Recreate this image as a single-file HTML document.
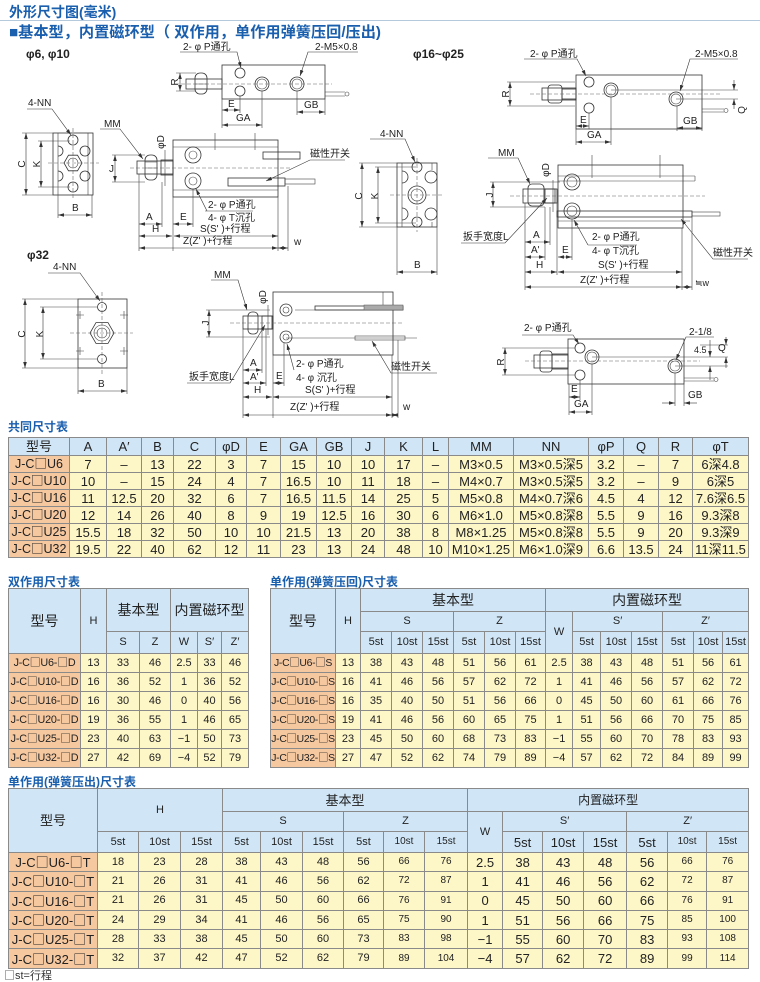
<!DOCTYPE html>
<html><head><meta charset="utf-8">
<style>
html,body{margin:0;padding:0;background:#fff}
#pg{position:relative;width:760px;height:982px;overflow:hidden;background:#fff;font-family:"Liberation Sans","Noto Sans CJK SC",sans-serif}
svg{position:absolute;left:0;top:0}
i{font-style:normal;font-family:"Noto Sans CJK SC",sans-serif}
table{position:absolute;border-collapse:collapse;table-layout:fixed;color:#222;border:1.5px solid #5a5a5a;font-family:"Liberation Sans","Noto Sans CJK SC",sans-serif}
td{border:1px solid #8a8a8a;text-align:center;vertical-align:middle;padding:0;overflow:hidden;white-space:nowrap;background:#fdf6c6;line-height:1}
td.h{background:#d0e6f7}
td.m{background:#f5c8a0}
.tt{position:absolute;font-weight:bold;color:#1a5fae;font-size:12px;white-space:nowrap;font-family:"Liberation Sans","Noto Sans CJK SC",sans-serif}
#t1 td{font-size:13px}
#t1 td.m{font-size:12.5px}
#t2 td{font-size:11px}
#t2 td.m{font-size:10.8px;letter-spacing:-0.2px}
#t3 td{font-size:11px}
#t3 td.m{font-size:10.4px;letter-spacing:-0.3px}
#t4 td{font-size:11px}
#t4 td.m{font-size:13px}
#t4 td.b{font-size:13px}
#t4 td.s{font-size:10px}
</style></head>
<body><div id="pg">
<svg width="760" height="420" viewBox="0 0 760 420">
<defs>
<marker id="a" viewBox="0 0 10 6" refX="10" refY="3" markerWidth="6" markerHeight="3.6" orient="auto-start-reverse" markerUnits="userSpaceOnUse"><path d="M0,0 L10,3 L0,6z" fill="#333"/></marker>
</defs>
<style>
.l{stroke:#333;stroke-width:.8;fill:none}
.t{stroke:#444;stroke-width:.6;fill:none}
.c{stroke:#666;stroke-width:.6;stroke-dasharray:4 2;fill:none}
.d{stroke:#333;stroke-width:.6;fill:none;marker-start:url(#a);marker-end:url(#a)}
.e{stroke:#333;stroke-width:.6;fill:none;marker-end:url(#a)}
text{font-family:"Liberation Sans","Noto Sans CJK SC",sans-serif;font-size:10px;fill:#222}
</style>
<!-- header -->
<text x="9" y="17" style="font-size:14px;font-weight:bold;fill:#1a5fae">外形尺寸图(毫米)</text>
<line x1="0" y1="20.5" x2="760" y2="20.5" stroke="#b5c9dd" stroke-width="1"/>
<text x="9" y="37" textLength="372" lengthAdjust="spacingAndGlyphs" style="font-size:15px;font-weight:bold;fill:#1a5fae">■基本型，内置磁环型（ 双作用，单作用弹簧压回/压出)</text>
<text x="26" y="58" style="font-size:12px;font-weight:bold">φ6, φ10</text>

<!-- phi6 top view -->
<text x="183" y="50">2- φ P通孔</text>
<path class="e" d="M180 52H237L241 68"/>
<text x="315" y="50">2-M5×0.8</text>
<path class="e" d="M358 52H308L300 76"/>
<rect class="l" x="222" y="65" width="103" height="34"/>
<rect class="l" x="186" y="79" width="36" height="10"/>
<rect class="l" x="195" y="73" width="12" height="21" rx="5"/>
<path class="t" d="M195 79H207M195 84H207M195 89H207"/>
<circle class="l" cx="240" cy="73" r="5"/><circle class="l" cx="240" cy="91" r="5"/>
<circle class="l" cx="262" cy="84" r="7"/><circle class="t" cx="262" cy="84" r="5"/>
<circle class="l" cx="297" cy="84" r="7"/><circle class="t" cx="297" cy="84" r="5"/>
<path class="c" d="M175 84H332"/>
<path class="t" d="M325 92H345M325 96H345"/><circle class="t" cx="347" cy="94" r="2"/>
<path class="t" d="M176 73H196M176 91H196"/><path class="d" d="M180 73V91"/>
<text transform="translate(178,82) rotate(-90)" text-anchor="middle">R</text>
<path class="t" d="M222 99V128M240 96V113M262 91V128M297 91V115M325 99V115"/>
<path class="d" d="M222 110H240"/><text x="228" y="107">E</text>
<path class="d" d="M222 125H262"/><text x="236" y="121">GA</text>
<path class="d" d="M297 112H325"/><text x="304" y="108">GB</text>

<!-- phi6 end view -->
<text x="28" y="106">4-NN</text>
<path class="e" d="M27 109H52L71 135"/>
<rect class="l" x="53" y="133" width="40" height="62"/>
<path class="t" d="M58 133V195M88 133V195"/>
<circle class="l" cx="73" cy="140" r="5"/><circle class="l" cx="85" cy="151" r="5"/>
<circle class="l" cx="85" cy="176" r="5"/><circle class="l" cx="73" cy="187" r="5"/>
<polygon class="l" points="82,163 77.5,170.8 68.5,170.8 64,163 68.5,155.2 77.5,155.2"/><circle class="t" cx="73" cy="163" r="5"/>
<path class="l" d="M58 146A5 5 0 0 1 58 156M58 171A5 5 0 0 1 58 181"/>
<path class="c" d="M48 163H99M73 128V200"/>
<path class="t" d="M22 133H53M22 195H53M38 141H70M38 187H70"/>
<path class="d" d="M26 133V195"/><text transform="translate(25,164) rotate(-90)" text-anchor="middle">C</text>
<path class="d" d="M41 141V187"/><text transform="translate(40,164) rotate(-90)" text-anchor="middle">K</text>
<path class="t" d="M58 195V218M92 195V218"/>
<path class="d" d="M58 215H92"/><text x="72" y="211">B</text>

<!-- phi6 side view -->
<text x="104" y="127">MM</text>
<path class="e" d="M100 129H120L143 159"/>
<text transform="translate(164,142) rotate(-90)" text-anchor="middle">φD</text>
<path class="t" d="M165 150V186"/>
<rect class="l" x="173" y="140" width="105" height="57"/>
<path class="t" d="M173 147H278M173 190H278M215 133V150M255 133V150"/>
<circle class="l" cx="193" cy="155" r="8"/><circle class="t" cx="193" cy="155" r="4"/>
<circle class="l" cx="193" cy="181" r="8"/><circle class="t" cx="193" cy="181" r="4"/>
<rect class="l" x="137" y="161" width="36" height="13"/>
<rect class="l" x="145" y="155" width="12" height="25" rx="5"/>
<path class="t" d="M145 162H157M145 168H157M145 174H157"/>
<rect class="l" x="161" y="160" width="12" height="15"/>
<path class="c" d="M130 168H292"/>
<path class="t" d="M112 155H145M112 182H145"/>
<path class="d" d="M115 155V182"/><text x="109" y="172">J</text>
<rect class="l" x="263" y="152" width="37" height="7"/>
<rect class="l" x="228" y="178" width="57" height="8"/>
<rect class="t" x="285" y="179" width="30" height="5"/>
<text x="310" y="157">磁性开关</text>
<path class="e" d="M345 160H310L266 181"/>
<text x="208" y="208">2- φ P通孔</text>
<path class="t" d="M205 211H253"/>
<text x="208" y="221">4- φ T沉孔</text>
<path class="e" d="M207 211L196 189"/>
<path class="t" d="M139 174V251M162 182V227M173 197V251M193 189V227M278 197V251M288 186V251"/>
<path class="d" d="M139 224H162"/><text x="146" y="220">A</text>
<path class="d" d="M173 224H193"/><text x="180" y="220">E</text>
<path class="d" d="M139 236H172"/><text x="152" y="232">H</text>
<path class="d" d="M174 236H278"/><text x="200" y="232">S(S' )+行程</text>
<path class="d" d="M139 248H278"/><text x="183" y="244">Z(Z' )+行程</text>
<path class="d" d="M278 248H288"/><text x="294" y="245">w</text>

<!-- phi16 top view -->
<text x="413" y="58" style="font-size:12px;font-weight:bold">φ16~φ25</text>
<text x="530" y="57">2- φ P通孔</text>
<path class="e" d="M524 59H577L586 76"/>
<text x="695" y="57">2-M5×0.8</text>
<path class="e" d="M738 59H690L680 91"/>
<rect class="l" x="576" y="75" width="126" height="54"/>
<rect class="l" x="542" y="88" width="34" height="12"/>
<rect class="l" x="548" y="85" width="14" height="18" rx="3"/>
<rect class="l" x="562" y="89" width="14" height="10"/>
<circle class="l" cx="589" cy="82" r="5"/><circle class="l" cx="589" cy="108" r="5"/>
<circle class="l" cx="611" cy="90" r="7"/><circle class="t" cx="611" cy="90" r="5"/>
<circle class="l" cx="676" cy="99" r="7"/><circle class="t" cx="676" cy="99" r="5"/>
<path class="c" d="M530 94H722"/>
<path class="t" d="M507 82H575M507 106H575M611 90H738M676 99H738"/>
<path class="d" d="M510 82V106"/><text transform="translate(509,94) rotate(-90)" text-anchor="middle">R</text>
<path class="e" d="M734 80V90"/><path class="e" d="M734 109V99"/>
<text transform="translate(745,110) rotate(-90)" text-anchor="middle">Q</text>
<path class="t" d="M702 109H724M702 112H724"/><circle class="t" cx="726" cy="110.5" r="2"/>
<path class="t" d="M576 129V145M589 113V129M611 97V145M677 106V131M702 129V131"/>
<path class="d" d="M576 126H589"/><text x="580" y="123">E</text>
<path class="d" d="M576 142H611"/><text x="587" y="138">GA</text>
<path class="d" d="M677 128H702"/><text x="683" y="124">GB</text>

<!-- phi16 end view -->
<text x="380" y="137">4-NN</text>
<path class="e" d="M370 139H405L415 162"/>
<rect class="l" x="397" y="163" width="40" height="64"/>
<path class="t" d="M402 163V227M432 163V170M432 222V227"/>
<circle class="l" cx="417" cy="167" r="5"/><circle class="l" cx="431" cy="177" r="6"/>
<circle class="l" cx="417" cy="195" r="9"/><circle class="t" cx="417" cy="195" r="6"/>
<circle class="l" cx="431" cy="214" r="6"/><circle class="l" cx="417" cy="222" r="5"/>
<path class="l" d="M402 171A6 6 0 0 1 402 183M402 208A6 6 0 0 1 402 220"/>
<path class="c" d="M390 195H444M417 158V232"/>
<path class="t" d="M375 167H416M375 223H416M359 163H397M359 227H397"/>
<path class="d" d="M378 167V223"/><text transform="translate(378,196) rotate(-90)" text-anchor="middle">K</text>
<path class="d" d="M362 163V227"/><text transform="translate(362,196) rotate(-90)" text-anchor="middle">C</text>
<path class="t" d="M397 227V275M437 227V275"/>
<path class="d" d="M397 272H437"/><text x="414" y="268">B</text>

<!-- phi16 side view -->
<text x="498" y="156">MM</text>
<path class="e" d="M488 158H518L530 184"/>
<text transform="translate(549,170) rotate(-90)" text-anchor="middle">φD</text>
<path class="t" d="M553 180V212"/>
<rect class="l" x="558" y="165" width="125" height="63"/>
<path class="t" d="M558 176H695M558 181H695M695 176V181M592 155V178M660 155V178M558 221H690"/>
<circle class="l" cx="572" cy="182" r="8"/><circle class="t" cx="572" cy="182" r="5"/>
<circle class="l" cx="572" cy="211" r="8"/><circle class="t" cx="572" cy="211" r="5"/>
<rect class="l" x="557" y="211" width="135" height="6"/>
<rect class="t" x="692" y="212" width="28" height="4"/>
<rect class="l" x="523" y="189" width="34" height="14"/>
<rect class="l" x="528" y="184" width="16" height="22" rx="4"/>
<rect class="l" x="545" y="189" width="10" height="14"/>
<path class="c" d="M510 196H705"/>
<path class="t" d="M490 182H560M490 207H545"/>
<path class="d" d="M493 182V207"/><text transform="translate(493,195) rotate(-90)" text-anchor="middle">J</text>
<text x="713" y="256">磁性开关</text>
<path class="e" d="M748 259H713L681 219"/>
<text x="592" y="240">2- φ P通孔</text>
<path class="t" d="M588 245H637"/>
<text x="592" y="254">4- φ T沉孔</text>
<path class="e" d="M588 245L574 220"/>
<text x="463" y="240">扳手宽度L</text>
<path class="e" d="M461 243H505L547 198"/>
<path class="t" d="M525 203V290M550 207V245M545 207V260M557 203V275M572 219V260M682 228V290M692 217V290"/>
<path class="d" d="M525 242H550"/><text x="533" y="238">A</text>
<path class="d" d="M525 257H545"/><text x="531" y="253">A'</text>
<path class="d" d="M558 257H572"/><text x="562" y="253">E</text>
<path class="d" d="M525 272H557"/><text x="536" y="268">H</text>
<path class="d" d="M558 272H682"/><text x="598" y="268">S(S' )+行程</text>
<path class="d" d="M525 287H682"/><text x="580" y="283">Z(Z' )+行程</text>
<path class="d" d="M682 287H692"/><text x="695" y="286" style="font-size:9px">≒w</text>

<!-- phi32 end view -->
<text x="27" y="259" style="font-size:12px;font-weight:bold">φ32</text>
<text x="53" y="270">4-NN</text>
<path class="e" d="M48 273H80L100 301"/>
<rect class="l" x="78" y="299" width="49" height="69"/>
<circle class="l" cx="102" cy="307" r="4.5"/><circle class="l" cx="102" cy="359" r="4.5"/>
<polygon class="l" points="114,333 108,343.4 96,343.4 90,333 96,322.6 108,322.6"/>
<circle class="t" cx="102" cy="333" r="8"/><circle class="t" cx="102" cy="333" r="5"/>
<path class="t" d="M80 311V319M76 315H84M124 311V319M120 315H128M80 347V355M76 351H84M124 347V355M120 351H128"/>
<path class="c" d="M70 333H133M102 292V374"/>
<path class="t" d="M22 299H78M22 368H78M40 307H97M40 359H97"/>
<path class="d" d="M25 299V368"/><text transform="translate(25,334) rotate(-90)" text-anchor="middle">C</text>
<path class="d" d="M43 307V359"/><text transform="translate(43,334) rotate(-90)" text-anchor="middle">K</text>
<path class="t" d="M78 368V394M127 368V394"/>
<path class="d" d="M78 391H127"/><text x="98" y="387">B</text>

<!-- phi32 side view -->
<text x="214" y="278">MM</text>
<path class="e" d="M211 280H238L247 310"/>
<text transform="translate(266,297) rotate(-90)" text-anchor="middle">φD</text>
<path class="t" d="M268 305V335"/>
<rect class="l" x="273" y="292" width="120" height="63"/>
<path class="t" d="M383 292V305M295 310H393M286 338H417"/>
<rect class="l" x="315" y="306" width="88" height="4"/>
<rect x="364" y="305" width="39" height="5" fill="#aaa" stroke="#555" stroke-width=".5"/>
<rect class="t" x="355" y="336" width="50" height="4"/>
<circle class="l" cx="286" cy="310" r="6"/><circle class="t" cx="286" cy="310" r="3"/>
<circle class="l" cx="286" cy="337" r="6"/><circle class="t" cx="286" cy="337" r="3"/>
<rect class="l" x="243" y="316" width="30" height="13"/>
<rect class="l" x="248" y="312" width="10" height="22" rx="4"/>
<rect class="l" x="262" y="316" width="10" height="13"/>
<path class="c" d="M230 323H402"/>
<path class="t" d="M206 310H270M206 337H270"/>
<path class="d" d="M209 310V337"/><text transform="translate(209,323) rotate(-90)" text-anchor="middle">J</text>
<text x="391" y="370">磁性开关</text>
<path class="e" d="M437 373H391L372 341"/>
<text x="296" y="367">2- φ P通孔</text>
<text x="296" y="381">4- φ 沉孔</text>
<path class="e" d="M294 370L287 344"/>
<text x="189" y="380">扳手宽度L</text>
<path class="e" d="M187 383H230L265 325"/>
<path class="t" d="M243 329V418M262 329V373M266 329V386M273 355V418M284 343V386M392 355V418M398 340V418"/>
<path class="d" d="M243 370H262"/><text x="250" y="366">A</text>
<path class="d" d="M243 383H266"/><text x="250" y="380">A'</text>
<path class="d" d="M273 383H284"/><text x="276" y="379">E</text>
<path class="d" d="M243 397H272"/><text x="254" y="393">H</text>
<path class="d" d="M273 397H392"/><text x="305" y="393">S(S' )+行程</text>
<path class="d" d="M243 415H392"/><text x="290" y="410">Z(Z' )+行程</text>
<path class="d" d="M392 415H398"/><text x="403" y="410">w</text>

<!-- phi32 top view -->
<text x="524" y="331">2- φ P通孔</text>
<path class="e" d="M522 335H573L579 344"/>
<text x="689" y="335">2-1/8</text>
<path class="e" d="M714 337H686L676 360"/>
<rect class="l" x="568" y="339" width="116" height="45"/>
<rect class="l" x="534" y="355" width="34" height="13"/>
<rect class="l" x="540" y="351" width="12" height="21" rx="3"/>
<rect class="l" x="552" y="354" width="16" height="15"/>
<circle class="l" cx="580" cy="348" r="5"/><circle class="l" cx="580" cy="375" r="5"/>
<circle class="l" cx="592" cy="357" r="7"/><circle class="t" cx="592" cy="357" r="5"/>
<circle class="l" cx="675" cy="366" r="7"/><circle class="t" cx="675" cy="366" r="5"/>
<path class="c" d="M525 361H700"/>
<path class="t" d="M592 357H728M675 366H728M700 345H728"/>
<path class="e" d="M710 340V357"/><path class="e" d="M710 380V366"/>
<path class="e" d="M726 337V345"/><path class="e" d="M726 368V357"/>
<text x="694" y="353" style="font-size:9px">4.5</text>
<text x="718" y="351">Q</text>
<path class="t" d="M684 378H714M684 381H714"/><circle class="t" cx="716" cy="379.5" r="2"/>
<path class="t" d="M502 348H575M502 375H575"/>
<path class="d" d="M505 348V375"/><text transform="translate(504,362) rotate(-90)" text-anchor="middle">R</text>
<path class="t" d="M569 384V415M580 380V400M592 364V415M675 373V406M684 384V406"/>
<path class="d" d="M569 397H580"/><text x="571" y="392">E</text>
<path class="d" d="M569 412H592"/><text x="574" y="407">GA</text>
<path class="e" d="M662 403H675"/><path class="e" d="M697 403H684"/>
<text x="688" y="398">GB</text>
</svg>

<!-- table titles -->
<div class="tt" style="left:8px;top:418px">共同尺寸表</div>
<div class="tt" style="left:8px;top:573px">双作用尺寸表</div>
<div class="tt" style="left:270px;top:573px">单作用(弹簧压回)尺寸表</div>
<div class="tt" style="left:8px;top:773px">单作用(弹簧压出)尺寸表</div>
<div style="position:absolute;left:4px;top:967px;font-size:11px;color:#333;font-family:'Liberation Sans','Noto Sans CJK SC',sans-serif"><i>□</i>st=行程</div>

<!-- table 1 -->
<table id="t1" style="left:8px;top:437px;width:740px">
<colgroup><col style="width:61px"><col style="width:37px"><col style="width:35px"><col style="width:32px"><col style="width:42px"><col style="width:31px"><col style="width:34px"><col style="width:36px"><col style="width:35px"><col style="width:33px"><col style="width:38px"><col style="width:26px"><col style="width:65px"><col style="width:75px"><col style="width:35px"><col style="width:35px"><col style="width:34px"><col style="width:56px"></colgroup>
<tr style="height:18px"><td class="h">型号</td><td class="h">A</td><td class="h">A′</td><td class="h">B</td><td class="h">C</td><td class="h">φD</td><td class="h">E</td><td class="h">GA</td><td class="h">GB</td><td class="h">J</td><td class="h">K</td><td class="h">L</td><td class="h">MM</td><td class="h">NN</td><td class="h">φP</td><td class="h">Q</td><td class="h">R</td><td class="h">φT</td></tr>
<tr style="height:17px"><td class="m">J-C<i>□</i>U6</td><td>7</td><td>–</td><td>13</td><td>22</td><td>3</td><td>7</td><td>15</td><td>10</td><td>10</td><td>17</td><td>–</td><td>M3×0.5</td><td>M3×0.5深5</td><td>3.2</td><td>–</td><td>7</td><td>6深4.8</td></tr>
<tr style="height:17px"><td class="m">J-C<i>□</i>U10</td><td>10</td><td>–</td><td>15</td><td>24</td><td>4</td><td>7</td><td>16.5</td><td>10</td><td>11</td><td>18</td><td>–</td><td>M4×0.7</td><td>M3×0.5深5</td><td>3.2</td><td>–</td><td>9</td><td>6深5</td></tr>
<tr style="height:17px"><td class="m">J-C<i>□</i>U16</td><td>11</td><td>12.5</td><td>20</td><td>32</td><td>6</td><td>7</td><td>16.5</td><td>11.5</td><td>14</td><td>25</td><td>5</td><td>M5×0.8</td><td>M4×0.7深6</td><td>4.5</td><td>4</td><td>12</td><td>7.6深6.5</td></tr>
<tr style="height:17px"><td class="m">J-C<i>□</i>U20</td><td>12</td><td>14</td><td>26</td><td>40</td><td>8</td><td>9</td><td>19</td><td>12.5</td><td>16</td><td>30</td><td>6</td><td>M6×1.0</td><td>M5×0.8深8</td><td>5.5</td><td>9</td><td>16</td><td>9.3深8</td></tr>
<tr style="height:17px"><td class="m">J-C<i>□</i>U25</td><td>15.5</td><td>18</td><td>32</td><td>50</td><td>10</td><td>10</td><td>21.5</td><td>13</td><td>20</td><td>38</td><td>8</td><td>M8×1.25</td><td>M5×0.8深8</td><td>5.5</td><td>9</td><td>20</td><td>9.3深9</td></tr>
<tr style="height:17px"><td class="m">J-C<i>□</i>U32</td><td>19.5</td><td>22</td><td>40</td><td>62</td><td>12</td><td>11</td><td>23</td><td>13</td><td>24</td><td>48</td><td>10</td><td>M10×1.25</td><td>M6×1.0深9</td><td>6.6</td><td>13.5</td><td>24</td><td>11深11.5</td></tr>
</table>

<!-- table 2 -->
<table id="t2" style="left:8px;top:588px;width:240px">
<colgroup><col style="width:72px"><col style="width:26px"><col style="width:33px"><col style="width:31px"><col style="width:27px"><col style="width:24px"><col style="width:27px"></colgroup>
<tr style="height:43px"><td class="h" rowspan="2" style="font-size:14px">型号</td><td class="h" rowspan="2">H</td><td class="h" colspan="2" style="font-size:14px">基本型</td><td class="h" colspan="3" style="font-size:14px">内置磁环型</td></tr>
<tr style="height:22px"><td class="h">S</td><td class="h">Z</td><td class="h">W</td><td class="h">S′</td><td class="h">Z′</td></tr>
<tr style="height:19px"><td class="m">J-C<i>□</i>U6-<i>□</i>D</td><td>13</td><td>33</td><td>46</td><td>2.5</td><td>33</td><td>46</td></tr>
<tr style="height:19px"><td class="m">J-C<i>□</i>U10-<i>□</i>D</td><td>16</td><td>36</td><td>52</td><td>1</td><td>36</td><td>52</td></tr>
<tr style="height:19px"><td class="m">J-C<i>□</i>U16-<i>□</i>D</td><td>16</td><td>30</td><td>46</td><td>0</td><td>40</td><td>56</td></tr>
<tr style="height:19px"><td class="m">J-C<i>□</i>U20-<i>□</i>D</td><td>19</td><td>36</td><td>55</td><td>1</td><td>46</td><td>65</td></tr>
<tr style="height:19px"><td class="m">J-C<i>□</i>U25-<i>□</i>D</td><td>23</td><td>40</td><td>63</td><td>−1</td><td>50</td><td>73</td></tr>
<tr style="height:19px"><td class="m">J-C<i>□</i>U32-<i>□</i>D</td><td>27</td><td>42</td><td>69</td><td>−4</td><td>52</td><td>79</td></tr>
</table>

<!-- table 3 -->
<table id="t3" style="left:270px;top:588px;width:478px">
<colgroup><col style="width:65px"><col style="width:25px"><col style="width:31px"><col style="width:31px"><col style="width:31px"><col style="width:31px"><col style="width:31px"><col style="width:30px"><col style="width:27px"><col style="width:28px"><col style="width:31px"><col style="width:31px"><col style="width:31px"><col style="width:29px"><col style="width:26px"></colgroup>
<tr style="height:23px"><td class="h" rowspan="3" style="font-size:14px">型号</td><td class="h" rowspan="3">H</td><td class="h" colspan="6" style="font-size:14px">基本型</td><td class="h" colspan="7" style="font-size:14px">内置磁环型</td></tr>
<tr style="height:20px"><td class="h" colspan="3">S</td><td class="h" colspan="3">Z</td><td class="h" rowspan="2">W</td><td class="h" colspan="3">S′</td><td class="h" colspan="3">Z′</td></tr>
<tr style="height:22px"><td class="h">5st</td><td class="h">10st</td><td class="h">15st</td><td class="h">5st</td><td class="h">10st</td><td class="h">15st</td><td class="h">5st</td><td class="h">10st</td><td class="h">15st</td><td class="h">5st</td><td class="h">10st</td><td class="h">15st</td></tr>
<tr style="height:19px"><td class="m">J-C<i>□</i>U6-<i>□</i>S</td><td>13</td><td>38</td><td>43</td><td>48</td><td>51</td><td>56</td><td>61</td><td>2.5</td><td>38</td><td>43</td><td>48</td><td>51</td><td>56</td><td>61</td></tr>
<tr style="height:19px"><td class="m">J-C<i>□</i>U10-<i>□</i>S</td><td>16</td><td>41</td><td>46</td><td>56</td><td>57</td><td>62</td><td>72</td><td>1</td><td>41</td><td>46</td><td>56</td><td>57</td><td>62</td><td>72</td></tr>
<tr style="height:19px"><td class="m">J-C<i>□</i>U16-<i>□</i>S</td><td>16</td><td>35</td><td>40</td><td>50</td><td>51</td><td>56</td><td>66</td><td>0</td><td>45</td><td>50</td><td>60</td><td>61</td><td>66</td><td>76</td></tr>
<tr style="height:19px"><td class="m">J-C<i>□</i>U20-<i>□</i>S</td><td>19</td><td>41</td><td>46</td><td>56</td><td>60</td><td>65</td><td>75</td><td>1</td><td>51</td><td>56</td><td>66</td><td>70</td><td>75</td><td>85</td></tr>
<tr style="height:19px"><td class="m">J-C<i>□</i>U25-<i>□</i>S</td><td>23</td><td>45</td><td>50</td><td>60</td><td>68</td><td>73</td><td>83</td><td>−1</td><td>55</td><td>60</td><td>70</td><td>78</td><td>83</td><td>93</td></tr>
<tr style="height:19px"><td class="m">J-C<i>□</i>U32-<i>□</i>S</td><td>27</td><td>47</td><td>52</td><td>62</td><td>74</td><td>79</td><td>89</td><td>−4</td><td>57</td><td>62</td><td>72</td><td>84</td><td>89</td><td>99</td></tr>
</table>

<!-- table 4 -->
<table id="t4" style="left:8px;top:788px;width:740px">
<colgroup><col style="width:89px"><col style="width:41px"><col style="width:42px"><col style="width:42px"><col style="width:38px"><col style="width:42px"><col style="width:41px"><col style="width:40px"><col style="width:41px"><col style="width:43px"><col style="width:35px"><col style="width:40px"><col style="width:41px"><col style="width:43px"><col style="width:41px"><col style="width:39px"><col style="width:42px"></colgroup>
<tr style="height:23px"><td class="h" rowspan="3" style="font-size:13px">型号</td><td class="h" colspan="3" rowspan="2">H</td><td class="h" colspan="6" style="font-size:13px">基本型</td><td class="h" colspan="7" style="font-size:12px">内置磁环型</td></tr>
<tr style="height:20px"><td class="h" colspan="3">S</td><td class="h" colspan="3">Z</td><td class="h" rowspan="2">W</td><td class="h" colspan="3">S′</td><td class="h" colspan="3">Z′</td></tr>
<tr style="height:21px"><td class="h">5st</td><td class="h">10st</td><td class="h">15st</td><td class="h">5st</td><td class="h">10st</td><td class="h">15st</td><td class="h">5st</td><td class="h s">10st</td><td class="h s">15st</td><td class="h b">5st</td><td class="h b">10st</td><td class="h b">15st</td><td class="h b">5st</td><td class="h s">10st</td><td class="h s">15st</td></tr>
<tr style="height:19.3px"><td class="m">J-C<i>□</i>U6-<i>□</i>T</td><td>18</td><td>23</td><td>28</td><td>38</td><td>43</td><td>48</td><td>56</td><td class="s">66</td><td class="s">76</td><td class="b">2.5</td><td class="b">38</td><td class="b">43</td><td class="b">48</td><td class="b">56</td><td class="s">66</td><td class="s">76</td></tr>
<tr style="height:19.3px"><td class="m">J-C<i>□</i>U10-<i>□</i>T</td><td>21</td><td>26</td><td>31</td><td>41</td><td>46</td><td>56</td><td>62</td><td class="s">72</td><td class="s">87</td><td class="b">1</td><td class="b">41</td><td class="b">46</td><td class="b">56</td><td class="b">62</td><td class="s">72</td><td class="s">87</td></tr>
<tr style="height:19.3px"><td class="m">J-C<i>□</i>U16-<i>□</i>T</td><td>21</td><td>26</td><td>31</td><td>45</td><td>50</td><td>60</td><td>66</td><td class="s">76</td><td class="s">91</td><td class="b">0</td><td class="b">45</td><td class="b">50</td><td class="b">60</td><td class="b">66</td><td class="s">76</td><td class="s">91</td></tr>
<tr style="height:19.3px"><td class="m">J-C<i>□</i>U20-<i>□</i>T</td><td>24</td><td>29</td><td>34</td><td>41</td><td>46</td><td>56</td><td>65</td><td class="s">75</td><td class="s">90</td><td class="b">1</td><td class="b">51</td><td class="b">56</td><td class="b">66</td><td class="b">75</td><td class="s">85</td><td class="s">100</td></tr>
<tr style="height:19.3px"><td class="m">J-C<i>□</i>U25-<i>□</i>T</td><td>28</td><td>33</td><td>38</td><td>45</td><td>50</td><td>60</td><td>73</td><td class="s">83</td><td class="s">98</td><td class="b">−1</td><td class="b">55</td><td class="b">60</td><td class="b">70</td><td class="b">83</td><td class="s">93</td><td class="s">108</td></tr>
<tr style="height:19.3px"><td class="m">J-C<i>□</i>U32-<i>□</i>T</td><td>32</td><td>37</td><td>42</td><td>47</td><td>52</td><td>62</td><td>79</td><td class="s">89</td><td class="s">104</td><td class="b">−4</td><td class="b">57</td><td class="b">62</td><td class="b">72</td><td class="b">89</td><td class="s">99</td><td class="s">114</td></tr>
</table>
</div></body></html>
